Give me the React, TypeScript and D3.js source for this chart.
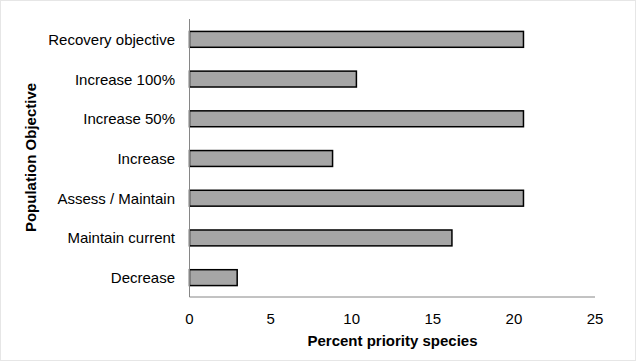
import React from 'react';
import * as d3 from 'd3';

const categories = [
  'Recovery objective',
  'Increase 100%',
  'Increase 50%',
  'Increase',
  'Assess / Maintain',
  'Maintain current',
  'Decrease',
];
const percents = [20.59, 10.29, 20.59, 8.82, 20.59, 16.18, 2.94];
const xTicks = [0, 5, 10, 15, 20, 25];

export default function App() {
  const width = 636;
  const height = 362;
  const margin = { top: 19, right: 41, bottom: 65, left: 189.5 };

  const x = d3.scaleLinear()
    .domain([0, 25])
    .range([margin.left, width - margin.right]);

  const y = d3.scaleBand()
    .domain(categories)
    .range([margin.top, height - margin.bottom])
    .paddingInner(0.6)
    .paddingOuter(0.3);

  const font = '"Liberation Sans", Arial, sans-serif';
  const axisY = height - margin.bottom;

  return (
    <div style={{ position: 'absolute', left: 0, top: 0 }}>
      <svg width={width} height={height} style={{ display: 'block', fontFamily: font }}>
        <rect x={0.5} y={0.5} width={width - 1} height={height - 2} fill="#fff" stroke="#e6e6e6" />

        {/* bars */}
        {categories.map((c, i) => (
          <rect
            key={c}
            x={x(0)}
            y={y(c)! + 0.5}
            width={x(percents[i]) - x(0)}
            height={y.bandwidth()}
            fill="#a6a6a6"
            stroke="#000"
            strokeWidth={1.5}
          />
        ))}

        {/* axes */}
        <line x1={x(0)} x2={x(0)} y1={margin.top} y2={axisY} stroke="#868686" strokeWidth={1} />
        <line x1={x(0)} x2={x(25)} y1={axisY} y2={axisY} stroke="#868686" strokeWidth={1} />

        {/* category labels */}
        {categories.map(c => (
          <text
            key={c}
            x={175}
            y={y(c)! + y.bandwidth() / 2 + 0.5}
            textAnchor="end"
            dominantBaseline="central"
            fontSize={15}
            fill="#000"
          >
            {c}
          </text>
        ))}

        {/* x tick labels */}
        {xTicks.map(t => (
          <text key={t} x={x(t)} y={318} textAnchor="middle" dominantBaseline="central" fontSize={15} fill="#000">
            {t}
          </text>
        ))}

        <text x={392.5} y={340} textAnchor="middle" dominantBaseline="central" fontSize={15} fontWeight="bold">
          Percent priority species
        </text>
        <text
          transform={`translate(30,157.5) rotate(-90)`}
          textAnchor="middle"
          dominantBaseline="central"
          fontSize={15}
          fontWeight="bold"
        >
          Population Objective
        </text>
      </svg>
    </div>
  );
}
